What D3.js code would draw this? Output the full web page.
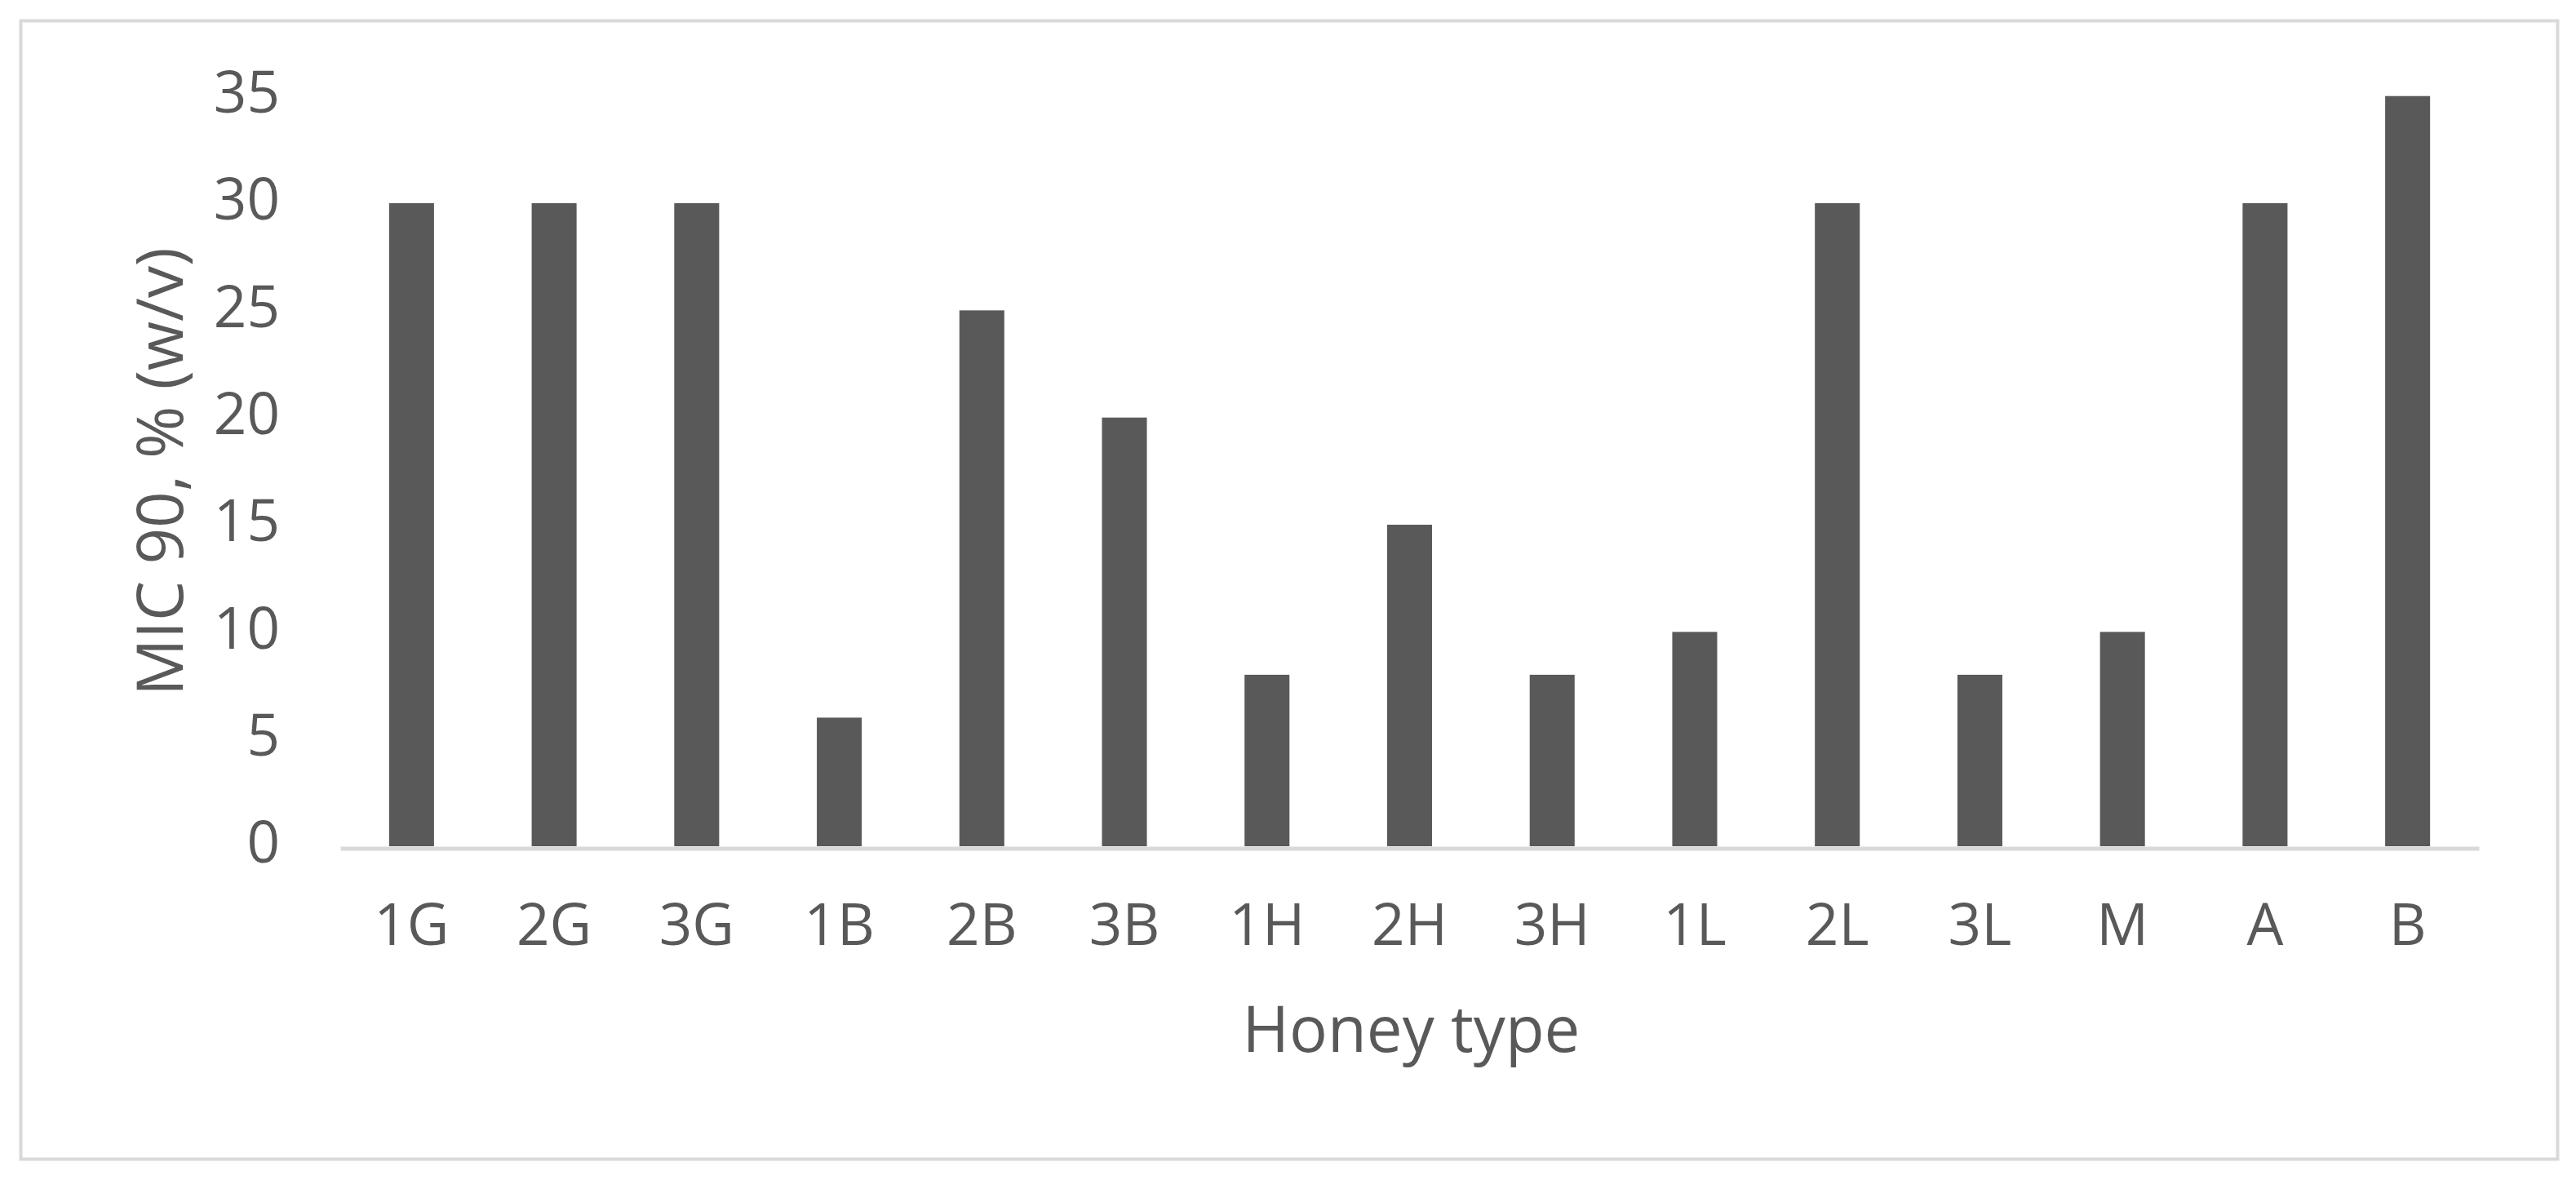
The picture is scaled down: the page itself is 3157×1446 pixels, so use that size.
<!DOCTYPE html>
<html>
<head>
<meta charset="utf-8">
<script src="https://cdn.jsdelivr.net/npm/d3@7"></script>
<style>
  html, body { margin: 0; padding: 0; background: #fff; }
  #chart { width: 3157px; height: 1446px; }
  text { font-family: 'Open Sans', 'Noto Sans', sans-serif; fill: #595959; }
</style>
</head>
<body>
<div id="chart"></div>
<script>
// honey samples and their MIC 90 values, % (w/v)
let honeyTypes = [ '1G', '2G', '3G', '1B', '2B', '3B', '1H', '2H', '3H', '1L', '2L', '3L', 'M', 'A', 'B' ]
let mic90 = [ 30, 30, 30, 6, 25, 20, 8, 15, 8, 10, 30, 8, 10, 30, 35 ]
let yTicks = [ 0, 5, 10, 15, 20, 25, 30, 35 ]

let barColor = '#595959'
let lineColor = '#d9d9d9'
let textColor = '#595959'

let width = 3157
let height = 1446
let plot = { left: 417, right: 3038, top: 117.7, bottom: 1037 }

let svg = d3.select('#chart').append('svg')
  .attr('width', width)
  .attr('height', height)

// outer chart frame
svg.append('rect')
  .attr('x', 25.5)
  .attr('y', 25.5)
  .attr('width', 3109)
  .attr('height', 1395)
  .attr('fill', '#fff')
  .attr('stroke', lineColor)
  .attr('stroke-width', 4)

let x = d3.scaleBand()
  .domain(honeyTypes)
  .range([ plot.left, plot.right ])
  .paddingInner(0.685)
  .paddingOuter(0.3425)

let y = d3.scaleLinear()
  .domain([ 0, 35 ])
  .range([ plot.bottom, plot.top ])

let rows = honeyTypes.map((d, i) => ({ name: d, value: mic90[ i ] }))

svg.append('g')
  .attr('class', 'bars')
  .selectAll('rect')
  .data(rows)
  .enter()
  .append('rect')
  .attr('x', d => x(d.name))
  .attr('y', d => y(d.value))
  .attr('width', x.bandwidth())
  .attr('height', d => y(0) - y(d.value))
  .attr('fill', barColor)

// y axis: labels only, no line or ticks
let yAxis = svg.append('g')
  .attr('transform', 'translate(' + (plot.left - 74) + ',0)')
  .call(d3.axisLeft(y).tickValues(yTicks).tickSize(0).tickPadding(0))
yAxis.select('.domain').remove()
yAxis.selectAll('text')
  .attr('x', 0)
  .attr('dy', '0.32em')
  .attr('transform', 'translate(0,-3)')
  .style('font-size', '71px')
  .style('font-family', "'Open Sans', 'Noto Sans', sans-serif")
  .attr('fill', textColor)

// x axis: baseline plus category labels
let xAxis = svg.append('g')
  .attr('transform', 'translate(0,' + (plot.bottom + 2.5) + ')')
  .call(d3.axisBottom(x).tickSize(0).tickPadding(0))
xAxis.select('.domain')
  .attr('stroke', lineColor)
  .attr('stroke-width', 5)
xAxis.selectAll('text')
  .attr('y', 118)
  .attr('dy', 0)
  .style('font-size', '71px')
  .style('font-family', "'Open Sans', 'Noto Sans', sans-serif")
  .attr('fill', textColor)

svg.append('text')
  .attr('x', (plot.left + plot.right) / 2 + 2)
  .attr('y', 1289)
  .attr('text-anchor', 'middle')
  .style('font-size', '78px')
  .text('Honey type')

svg.append('text')
  .attr('transform', 'translate(224,578) rotate(-90)')
  .attr('text-anchor', 'middle')
  .style('font-size', '78px')
  .text('MIC 90, % (w/v)')
</script>
</body>
</html>
